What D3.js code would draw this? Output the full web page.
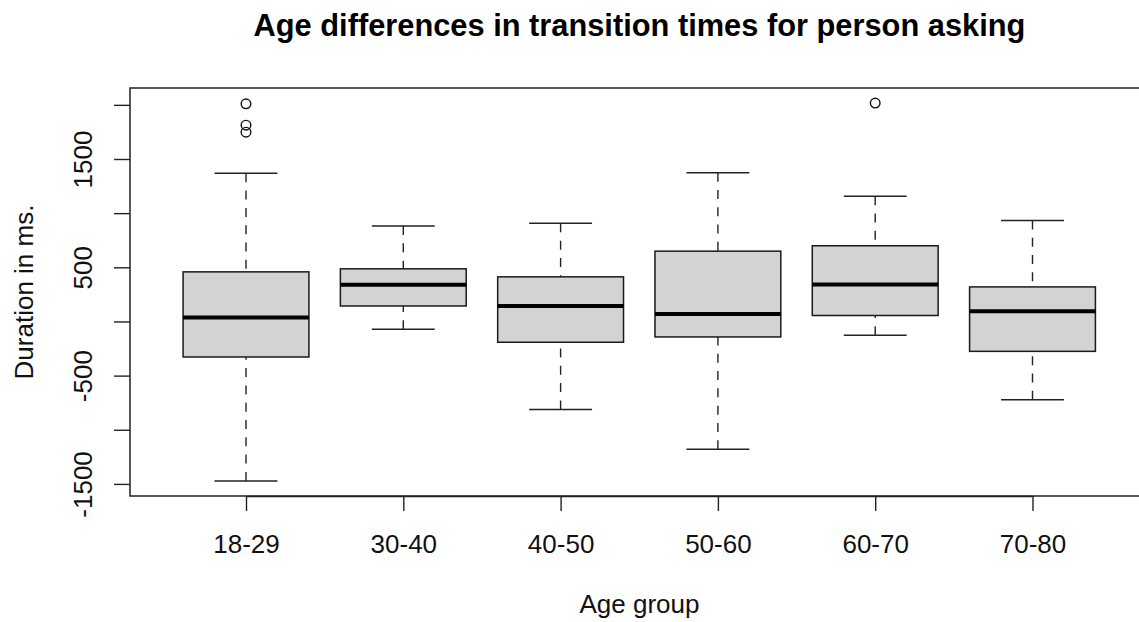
<!DOCTYPE html>
<html>
<head>
<meta charset="utf-8">
<script src="https://cdn.jsdelivr.net/npm/d3@7"></script>
<style>
  html, body { margin: 0; padding: 0; background: #fff; }
  svg { display: block; font-family: "Liberation Sans", Arial, Helvetica, sans-serif; }
</style>
</head>
<body>
<svg id="chart" width="1139" height="622"></svg>
<script>
// ---- data ----
const categories  = ["18-29", "30-40", "40-50", "50-60", "60-70", "70-80"];
const whiskerLow  = [-1472,  -72, -812, -1180, -128, -723];
const q1          = [ -328,  143, -192,  -143,   55, -276];
const median      = [   36,  338,  143,    69,  341,   94];
const q3          = [  458,  486,  412,   649,  699,  319];
const whiskerHigh = [ 1368,  881,  906,  1374, 1156,  933];
const outlierGroup = ["18-29", "18-29", "18-29", "60-70"];
const outlierValue = [ 2009,    1812,    1748,    2016 ];
const yTicks  = [-1500, -1000, -500, 0, 500, 1000, 1500, 2000];
const yLabels = ["-1500", "", "-500", "", "500", "", "1500", ""];
const titleText = "Age differences in transition times for person asking";
const xTitle = "Age group";
const yTitle = "Duration in ms.";

// ---- layout ----
const svg = d3.select("#chart");
const plotTop = 88, plotBottom = 496, plotLeft = 130;

const allVals = whiskerLow.concat(whiskerHigh, outlierValue);
const ext = d3.extent(allVals);
const pad = 0.04 * (ext[1] - ext[0]);
const y = d3.scaleLinear().domain([ext[0] - pad, ext[1] + pad]).range([plotBottom, plotTop]);

const x = d3.scalePoint().domain(categories).range([246, 1032.5]);
const step = x.step();
const boxHalf = 0.4 * step;
const capHalf = 0.2 * step;
const plotRight = x(categories[categories.length - 1]) + 0.74 * step;

const rows = categories.map((c, i) => ({
  cat: c, lo: whiskerLow[i], q1: q1[i], med: median[i], q3: q3[i], hi: whiskerHigh[i]
}));

const g = svg.append("g");

// whiskers (dashed), drawn from whisker end toward box
g.selectAll(".wlo").data(rows).join("line")
  .attr("x1", d => x(d.cat)).attr("x2", d => x(d.cat))
  .attr("y1", d => y(d.lo)).attr("y2", d => y(d.q1))
  .attr("stroke", "#222").attr("stroke-width", 1.4).attr("stroke-dasharray", "9,8.3");
g.selectAll(".whi").data(rows).join("line")
  .attr("x1", d => x(d.cat)).attr("x2", d => x(d.cat))
  .attr("y1", d => y(d.hi)).attr("y2", d => y(d.q3))
  .attr("stroke", "#222").attr("stroke-width", 1.4).attr("stroke-dasharray", "9,8.3");

// caps
["lo", "hi"].forEach(k => {
  g.selectAll(".cap" + k).data(rows).join("line")
    .attr("x1", d => x(d.cat) - capHalf).attr("x2", d => x(d.cat) + capHalf)
    .attr("y1", d => y(d[k])).attr("y2", d => y(d[k]))
    .attr("stroke", "#222").attr("stroke-width", 1.5);
});

// boxes
g.selectAll(".box").data(rows).join("rect")
  .attr("x", d => x(d.cat) - boxHalf).attr("width", 2 * boxHalf)
  .attr("y", d => y(d.q3)).attr("height", d => y(d.q1) - y(d.q3))
  .attr("fill", "#d3d3d3").attr("stroke", "#1a1a1a").attr("stroke-width", 1.5);

// medians
g.selectAll(".med").data(rows).join("line")
  .attr("x1", d => x(d.cat) - boxHalf).attr("x2", d => x(d.cat) + boxHalf)
  .attr("y1", d => y(d.med)).attr("y2", d => y(d.med))
  .attr("stroke", "#000").attr("stroke-width", 4);

// outliers
g.selectAll(".out").data(outlierValue).join("circle")
  .attr("cx", (d, i) => x(outlierGroup[i])).attr("cy", d => y(d))
  .attr("r", 4.8).attr("fill", "none").attr("stroke", "#111").attr("stroke-width", 1.4);

// frame
svg.append("rect")
  .attr("x", plotLeft).attr("y", plotTop)
  .attr("width", plotRight - plotLeft).attr("height", plotBottom - plotTop)
  .attr("fill", "none").attr("stroke", "#222").attr("stroke-width", 1.5);

// y axis
const yAxis = svg.append("g").attr("transform", `translate(${plotLeft},0)`)
  .call(d3.axisLeft(y).tickValues(yTicks).tickSize(16).tickSizeOuter(0)
        .tickFormat((d, i) => yLabels[i]));
yAxis.select(".domain").remove();
yAxis.selectAll(".tick line").attr("stroke", "#222").attr("stroke-width", 1.4);
yAxis.selectAll(".tick text")
  .attr("x", 0).attr("dy", 0)
  .attr("transform", "translate(-38.5,0) rotate(-90)")
  .attr("text-anchor", "middle")
  .attr("font-size", 26).attr("fill", "#111")
  .style("font-family", "'Liberation Sans', Arial, sans-serif");

// x axis
const xAxis = svg.append("g").attr("transform", `translate(0,${plotBottom})`)
  .call(d3.axisBottom(x).tickSize(15).tickSizeOuter(0));
xAxis.select(".domain").attr("stroke", "#222").attr("stroke-width", 1.5);
xAxis.selectAll(".tick line").attr("stroke", "#222").attr("stroke-width", 1.4);
xAxis.selectAll(".tick text")
  .attr("y", 56.5).attr("dy", 0)
  .attr("font-size", 26).attr("fill", "#111")
  .style("font-family", "'Liberation Sans', Arial, sans-serif");

// titles
const cx = (plotLeft + plotRight) / 2;
svg.append("text").attr("x", cx).attr("y", 36)
  .attr("text-anchor", "middle").attr("font-size", 30.8).attr("font-weight", "bold")
  .attr("fill", "#000").text(titleText);
svg.append("text").attr("x", cx).attr("y", 613)
  .attr("text-anchor", "middle").attr("font-size", 26).attr("fill", "#111").text(xTitle);
svg.append("text")
  .attr("transform", `translate(33,${(plotTop + plotBottom) / 2}) rotate(-90)`)
  .attr("text-anchor", "middle").attr("font-size", 26).attr("fill", "#111").text(yTitle);
</script>
</body>
</html>
